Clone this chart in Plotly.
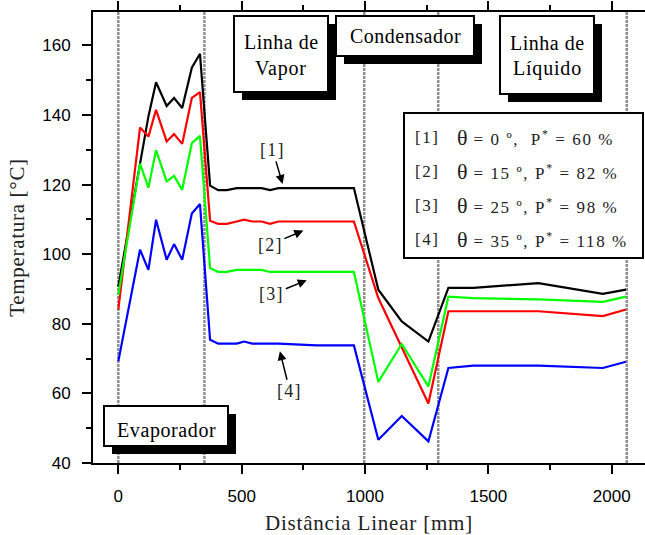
import plotly.graph_objects as go

# ---- data ----
dist_mm = [0, 88, 122, 153, 196, 226, 259, 298, 331, 372, 405, 440, 480, 510, 543, 581,
           615, 649, 804, 955, 1054, 1149, 1257, 1338, 1439, 1703, 1964, 2058]
temp_1 = [90.7, 126.2, 139.6, 149.4, 142.6, 144.9, 142.0, 153.6, 157.6, 119.7, 118.4, 118.4,
          119.0, 119.0, 119.0, 119.0, 118.4, 119.0, 119.0, 119.0, 89.8, 80.7, 74.9, 90.3,
          90.3, 91.7, 88.6, 89.8]
temp_2 = [84.1, 136.4, 133.8, 141.5, 132.4, 134.5, 131.7, 144.9, 146.6, 109.6, 108.7, 108.7,
          109.4, 109.9, 109.4, 109.4, 108.7, 109.4, 109.4, 109.4, 87.4, 73.2, 57.1, 83.6,
          83.6, 83.6, 82.2, 84.1]
temp_3 = [88.3, 126.0, 119.1, 129.9, 120.9, 122.5, 118.5, 131.9, 134.0, 96.0, 94.9, 94.9,
          95.5, 95.5, 95.5, 95.5, 94.9, 94.9, 94.9, 94.9, 63.3, 74.2, 62.0, 87.8,
          87.4, 87.0, 86.3, 87.8]
temp_4 = [69.2, 101.3, 95.5, 109.9, 98.4, 102.9, 98.4, 111.7, 114.4, 75.4, 74.3, 74.3,
          74.3, 74.9, 74.3, 74.3, 74.3, 74.3, 73.8, 73.8, 46.7, 53.5, 46.2, 67.3,
          68.0, 68.0, 67.3, 69.1]
series_colors = ["#000000", "#ff0000", "#00ff00", "#0000ff"]
series_labels = ["[1]", "[2]", "[3]", "[4]"]
theta_deg = [0, 15, 25, 35]
p_star = [60, 82, 98, 118]
section_bounds = [0, 349, 997, 1297, 2061]
x_ticks = [0, 500, 1000, 1500, 2000]
y_ticks = [40, 60, 80, 100, 120, 140, 160]
# arrow annotations: (label, head_x, head_y, ax, ay)
curve_arrows = [("[1]", 666, 120.2, -10, -34), ("[2]", 750, 106.8, -33, 14),
                ("[3]", 764, 92.5, -35, 14), ("[4]", 655, 72.1, 10, 40)]

W, H = 645, 535
L, R, T, B = 93, 0, 12, 72
PW, PH = W - L - R, H - T - B
SERIF = "Liberation Serif"
SANS = "Liberation Sans"


def px(xp):
    return (xp - L) / PW


def py(yp):
    return (H - B - yp) / PH


def sp(text, ls=0.5):
    return '<span style="letter-spacing:%spx">%s</span>' % (ls, text)


fig = go.Figure()
for ys, c in zip([temp_1, temp_2, temp_3, temp_4], series_colors):
    fig.add_trace(go.Scatter(x=dist_mm, y=ys, mode="lines",
                             line=dict(color=c, width=2.2), showlegend=False))

shapes = []
for xb in section_bounds:
    shapes.append(dict(type="line", xref="x", yref="paper", x0=xb, x1=xb, y0=0, y1=1,
                       line=dict(color="#909090", width=2.5, dash="3px,1px"), layer="below"))

# boxes with drop shadows (pixel positions)
boxes = [(234, 16, 328, 92), (336, 16, 474, 56), (500, 16, 594, 94), (104, 406, 228, 446)]
for (x0, y0, x1, y1) in boxes:
    shapes.append(dict(type="rect", xref="paper", yref="paper",
                       x0=px(x0 + 8), x1=px(x1 + 8), y0=py(y0 + 8), y1=py(y1 + 8),
                       fillcolor="black", line=dict(width=0), layer="above"))
    shapes.append(dict(type="rect", xref="paper", yref="paper",
                       x0=px(x0), x1=px(x1), y0=py(y0), y1=py(y1),
                       fillcolor="white", line=dict(color="black", width=2), layer="above"))
# legend box
shapes.append(dict(type="rect", xref="paper", yref="paper",
                   x0=px(404), x1=px(643), y0=py(113), y1=py(258),
                   fillcolor="white", line=dict(color="black", width=2), layer="above"))

ann = []


def txt(x, y, s, size=20, anchor="center", color="black"):
    ann.append(dict(xref="paper", yref="paper", x=px(x), y=py(y), text=s, showarrow=False,
                    xanchor=anchor, yanchor="middle",
                    font=dict(family=SERIF, size=size, color=color)))


txt(281, 42, sp("Linha de", 0.5))
txt(281, 69, sp("Vapor", 0.8))
txt(405, 36, sp("Condensador", 0.5))
txt(547, 43, sp("Linha de", 0.5))
txt(547, 69, sp("Líquido", 0.8))
txt(166, 430, sp("Evaporador", 0.6))

row_y = [137, 171, 205, 239]
for i in range(4):
    txt(413, row_y[i], sp(series_labels[i], 1.5), size=17, anchor="left", color="#222")
    sep = ",  " if i == 0 else ", "
    body = ('<span style="font-size:22px">θ</span>' +
            sp(" = %d º%sP<sup>*</sup> = %d %%" % (theta_deg[i], sep, p_star[i]), 1.6))
    txt(455, row_y[i], body, size=17, anchor="left", color="#222")

for lab, hx, hy, axp, ayp in curve_arrows:
    ann.append(dict(x=hx, y=hy, xref="x", yref="y", text=sp(lab, 1.2), showarrow=True,
                    ax=axp, ay=ayp, arrowhead=2, arrowsize=1.2, arrowwidth=1.5,
                    arrowcolor="black", standoff=0,
                    font=dict(family=SERIF, size=18, color="#222")))

fig.update_layout(
    width=W, height=H, margin=dict(l=L, r=R, t=T, b=B),
    paper_bgcolor="white", plot_bgcolor="white",
    shapes=shapes, annotations=ann,
    xaxis=dict(range=[-102.6, 2135], tickvals=x_ticks, ticks="outside", ticklen=9,
               tickwidth=2, tickcolor="black", showline=True, linecolor="black",
               linewidth=2, mirror="ticks", showgrid=False, zeroline=False,
               tickfont=dict(family=SANS, size=17, color="black"),
               ticklabelstandoff=8,
               minor=dict(dtick=250, tick0=0, ticks="outside", ticklen=5, tickwidth=2,
                          tickcolor="black", showgrid=False),
               title=dict(text=sp("Distância Linear [mm]", 0.8),
                          font=dict(family=SERIF, size=21, color="#222"), standoff=14)),
    yaxis=dict(range=[40, 169.6], tickvals=y_ticks, ticks="outside", ticklen=9,
               tickwidth=2, tickcolor="black", showline=True, linecolor="black",
               linewidth=2, showgrid=False, zeroline=False,
               tickfont=dict(family=SANS, size=17, color="black"),
               ticklabelstandoff=8,
               minor=dict(dtick=10, tick0=0, ticks="outside", ticklen=5, tickwidth=2,
                          tickcolor="black", showgrid=False),
               title=dict(text=sp("Temperatura [°C]", 0.7),
                          font=dict(family=SERIF, size=21, color="#222"), standoff=12)),
)

fig.write_html("out.html")
